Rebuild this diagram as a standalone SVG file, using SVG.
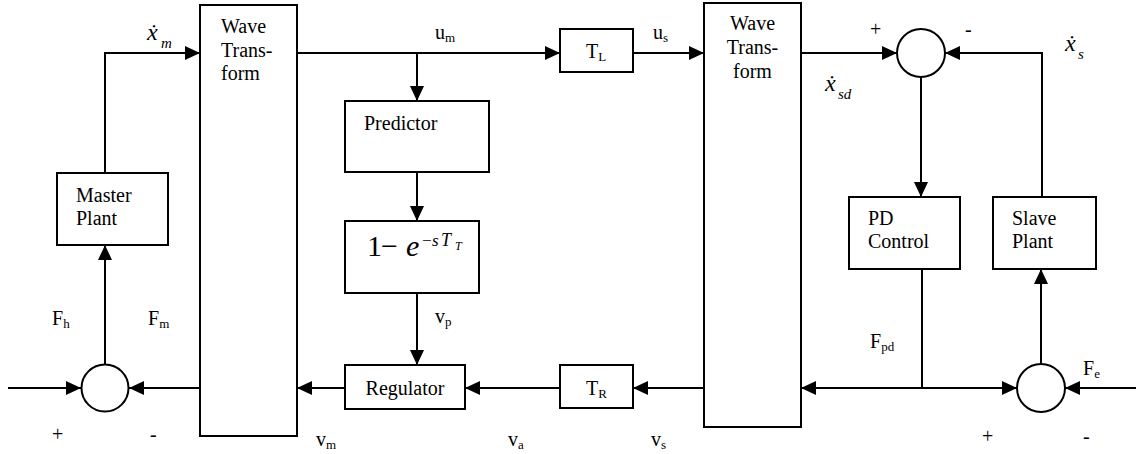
<svg xmlns="http://www.w3.org/2000/svg" width="1138" height="454" viewBox="0 0 1138 454">
<style>
.box{fill:#fff;stroke:#000;stroke-width:2}
.sum{fill:#fff;stroke:#000;stroke-width:2}
.wire{fill:none;stroke:#000;stroke-width:2}
text{font-family:"Liberation Serif","Times New Roman",serif;font-size:20px;fill:#000}
.sub{font-size:13px}
.it{font-style:italic}
.var{font-style:italic;font-size:24px}
.isub{font-style:italic;font-size:15px}
</style>
<defs>
<marker id="ah" markerUnits="userSpaceOnUse" markerWidth="15" markerHeight="14" refX="15" refY="7" orient="auto">
<path d="M0,0 L15,7 L0,14 z" fill="#000"/>
</marker>
</defs>
<g id="connectors" class="wire" marker-end="url(#ah)">
<path d="M105,173 V53 H200"/>
<path d="M105,364 V245"/>
<path d="M8,388 H81"/>
<path d="M200,388 H129"/>
<path d="M297,53 H560"/>
<path d="M417,53 V101"/>
<path d="M633,53 H704"/>
<path d="M417,172 V221"/>
<path d="M417,293 V365"/>
<path d="M345,388 H297"/>
<path d="M560,388 H465"/>
<path d="M704,388 H633"/>
<path d="M801,53 H897"/>
<path d="M1042,197 V53 H945"/>
<path d="M921,77 V197"/>
<path d="M922,269 V388" marker-end="none"/>
<path d="M922,388 H801"/>
<path d="M922,388 H1017"/>
<path d="M1041,364 V269"/>
<path d="M1136,388 H1065"/>
</g>
<g id="wave-transform-master">
<rect class="box" x="200" y="5" width="97" height="431"/>
<text x="221" y="33">Wave</text>
<text x="221" y="57">Trans-</text>
<text x="221" y="80">form</text>
</g>
<g id="master-plant">
<rect class="box" x="57" y="173" width="111" height="72"/>
<text x="76" y="202">Master</text>
<text x="76" y="225">Plant</text>
</g>
<g id="sum-master">
<circle class="sum" cx="105" cy="388" r="23.5"/>
</g>
<g id="predictor">
<rect class="box" x="345" y="101" width="144" height="71"/>
<text x="364" y="130">Predictor</text>
</g>
<g id="filter">
<rect class="box" x="345" y="221" width="134" height="72"/>
<text x="367" y="256" style="font-size:30px">1</text>
<text x="381" y="256" style="font-size:30px">−</text>
<text x="406" y="256" class="it" style="font-size:30px">e</text>
<text x="422" y="246" style="font-size:17px">−</text>
<text x="432" y="246" class="it" style="font-size:17px">s</text>
<text x="441" y="246" class="it" style="font-size:18px">T</text>
<text x="455" y="250" class="it" style="font-size:12px">T</text>
</g>
<g id="regulator">
<rect class="box" x="345" y="365" width="120" height="44"/>
<text x="405" y="395" text-anchor="middle">Regulator</text>
</g>
<g id="tl">
<rect class="box" x="560" y="29" width="73" height="43"/>
<text x="586" y="58">T<tspan class="sub" dy="3">L</tspan></text>
</g>
<g id="tr">
<rect class="box" x="560" y="365" width="73" height="43"/>
<text x="586" y="395">T<tspan class="sub" dy="3">R</tspan></text>
</g>
<g id="wave-transform-slave">
<rect class="box" x="704" y="3" width="97" height="424"/>
<text x="752.5" y="30" text-anchor="middle">Wave</text>
<text x="752.5" y="54" text-anchor="middle">Trans-</text>
<text x="752.5" y="78" text-anchor="middle">form</text>
</g>
<g id="sum-slave-top">
<circle class="sum" cx="921" cy="53" r="24"/>
</g>
<g id="pd-control">
<rect class="box" x="849" y="197" width="111" height="72"/>
<text x="868" y="225">PD</text>
<text x="868" y="248">Control</text>
</g>
<g id="slave-plant">
<rect class="box" x="993" y="197" width="103" height="72"/>
<text x="1012" y="225">Slave</text>
<text x="1012" y="248">Plant</text>
</g>
<g id="sum-slave-bottom">
<circle class="sum" cx="1041" cy="388" r="24"/>
</g>
<g id="labels">
<text x="147" y="40" class="var">ẋ</text><text x="161" y="48" class="isub">m</text>
<text x="435" y="39">u<tspan class="sub" dy="3">m</tspan></text>
<text x="653" y="39">u<tspan class="sub" dy="3">s</tspan></text>
<text x="825" y="91" class="var">ẋ</text><text x="838" y="99" class="isub">sd</text>
<text x="1065" y="51" class="var">ẋ</text><text x="1078" y="59" class="isub">s</text>
<text x="870" y="36">+</text>
<text x="965" y="36">-</text>
<text x="52" y="325">F<tspan class="sub" dy="3">h</tspan></text>
<text x="148" y="325">F<tspan class="sub" dy="3">m</tspan></text>
<text x="52" y="441">+</text>
<text x="150" y="441">-</text>
<text x="316" y="446">v<tspan class="sub" dy="3">m</tspan></text>
<text x="435" y="323">v<tspan class="sub" dy="3">p</tspan></text>
<text x="508" y="446">v<tspan class="sub" dy="3">a</tspan></text>
<text x="651" y="446">v<tspan class="sub" dy="3">s</tspan></text>
<text x="870" y="348">F<tspan class="sub" dy="3">pd</tspan></text>
<text x="1083" y="375">F<tspan class="sub" dy="3">e</tspan></text>
<text x="982" y="443">+</text>
<text x="1083" y="443">-</text>
</g>
</svg>
